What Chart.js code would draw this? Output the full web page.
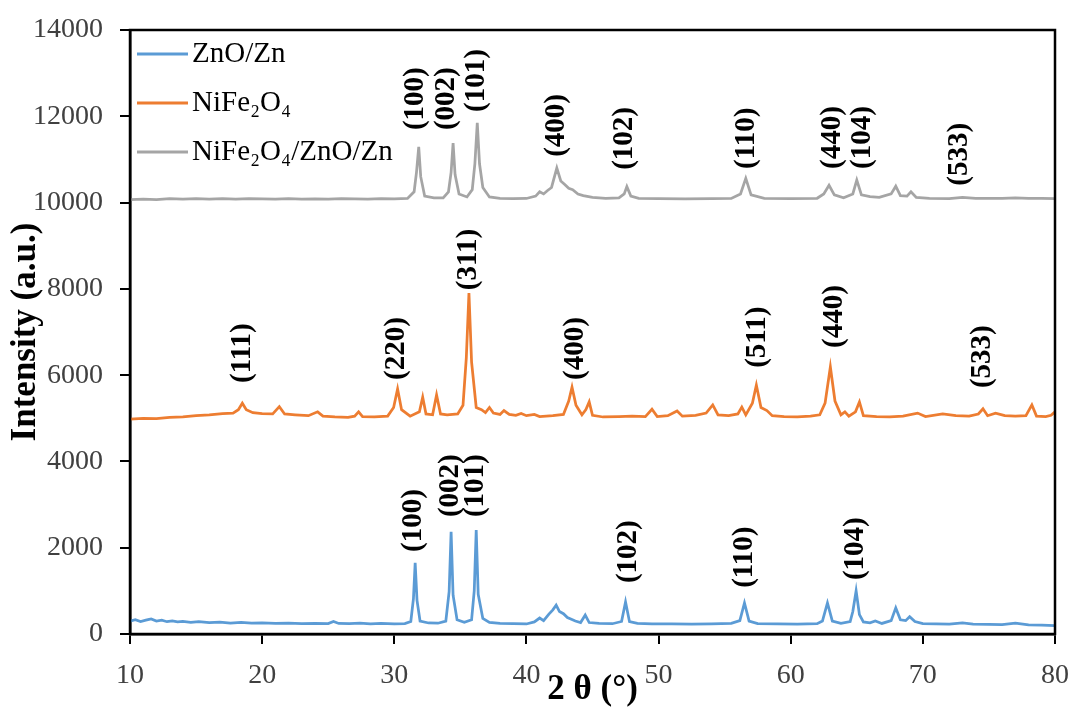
<!DOCTYPE html>
<html>
<head>
<meta charset="utf-8">
<script src="https://cdn.jsdelivr.net/npm/chart.js@4.4.1/dist/chart.umd.min.js"></script>
<style>
  html, body { margin: 0; padding: 0; background: #fff; }
  #wrap { width: 1073px; height: 709px; }
</style>
</head>
<body>
<div id="wrap"><canvas id="xrdChart" width="1073" height="709"></canvas></div>
<script>
  const SERIF = '"Liberation Serif", "Times New Roman", serif';

  const SERIES_NAMES = ['ZnO/Zn', 'NiFe₂O₄', 'NiFe₂O₄/ZnO/Zn'];
  const SERIES_COLORS = ['#5b9bd5', '#ed7d31', '#a5a5a5'];

  const X_TICKS = [10, 20, 30, 40, 50, 60, 70, 80];
  const Y_TICKS = [0, 2000, 4000, 6000, 8000, 10000, 12000, 14000];

  // [2θ, intensity]
  const zincPattern = [
    [10.0, 300], [10.4, 330], [10.8, 290], [11.2, 320], [11.6, 350], [12.0, 300], [12.4, 320],
    [12.8, 285], [13.2, 305], [13.6, 280], [14.0, 295], [14.6, 270], [15.2, 285], [16.0, 262],
    [16.8, 275], [17.6, 255], [18.4, 268], [19.2, 250], [20.0, 258], [21.0, 245], [22.0, 252],
    [23.0, 240], [24.0, 248], [25.0, 240], [25.4, 290], [25.8, 245], [26.6, 238], [27.4, 250],
    [28.2, 236], [29.0, 245], [30.0, 235], [30.8, 240], [31.25, 290], [31.45, 820], [31.58, 1650],
    [31.72, 780], [31.95, 300], [32.6, 255], [33.3, 250], [33.9, 300], [34.15, 980], [34.3, 2370],
    [34.45, 900], [34.75, 330], [35.3, 270], [35.85, 330], [36.05, 1000], [36.2, 2410], [36.35, 920],
    [36.7, 360], [37.2, 270], [38.0, 245], [39.0, 238], [40.0, 232], [40.6, 280], [41.0, 370],
    [41.3, 310], [41.7, 460], [42.0, 560], [42.25, 670], [42.5, 520], [42.8, 470], [43.1, 380],
    [43.4, 340], [43.7, 300], [44.1, 265], [44.45, 440], [44.75, 265], [45.5, 245], [46.5, 238],
    [47.2, 290], [47.5, 745], [47.8, 285], [48.4, 245], [49.5, 232], [51.0, 236], [52.5, 228],
    [54.0, 232], [55.5, 245], [56.15, 310], [56.5, 720], [56.85, 300], [57.5, 242], [59.0, 232],
    [60.5, 228], [62.0, 240], [62.4, 300], [62.78, 720], [63.15, 300], [63.8, 245], [64.5, 290],
    [64.7, 520], [64.95, 1000], [65.2, 450], [65.5, 280], [66.0, 260], [66.4, 300], [66.9, 245],
    [67.6, 310], [67.95, 605], [68.3, 330], [68.7, 310], [69.0, 400], [69.4, 290], [70.0, 240],
    [71.0, 232], [72.0, 228], [73.0, 255], [73.8, 228], [75.0, 222], [76.0, 218], [77.0, 250],
    [78.0, 212], [79.0, 208], [80.0, 195]
  ];

  const ferritePattern = [
    [10.0, 4980], [11.0, 5000], [12.0, 4990], [13.0, 5020], [14.0, 5030], [15.0, 5060], [16.0, 5080],
    [17.0, 5110], [17.8, 5120], [18.2, 5200], [18.5, 5350], [18.8, 5200], [19.3, 5130], [20.0, 5110],
    [20.8, 5100], [21.3, 5270], [21.7, 5100], [22.5, 5080], [23.5, 5060], [24.2, 5150], [24.6, 5050],
    [25.5, 5030], [26.5, 5020], [27.0, 5050], [27.3, 5150], [27.6, 5040], [28.5, 5030], [29.5, 5050],
    [29.95, 5250], [30.25, 5680], [30.55, 5200], [31.2, 5050], [31.9, 5150], [32.15, 5490], [32.4, 5100],
    [32.9, 5080], [33.2, 5540], [33.5, 5100], [34.0, 5080], [34.8, 5100], [35.2, 5300], [35.45, 6400],
    [35.65, 7900], [35.85, 6300], [36.2, 5250], [36.6, 5200], [36.9, 5130], [37.2, 5250], [37.5, 5120],
    [38.0, 5090], [38.3, 5180], [38.7, 5090], [39.2, 5070], [39.6, 5110], [40.0, 5060], [40.6, 5090],
    [41.0, 5040], [42.0, 5060], [42.8, 5090], [43.2, 5400], [43.45, 5720], [43.75, 5300], [44.2, 5080],
    [44.5, 5200], [44.75, 5380], [45.0, 5070], [45.8, 5030], [47.0, 5040], [48.0, 5050], [49.0, 5040],
    [49.5, 5210], [49.9, 5040], [50.7, 5060], [51.4, 5170], [51.8, 5050], [52.8, 5070], [53.6, 5120],
    [54.1, 5310], [54.5, 5080], [55.3, 5060], [56.0, 5100], [56.3, 5260], [56.6, 5080], [57.1, 5350],
    [57.4, 5770], [57.75, 5250], [58.2, 5180], [58.6, 5060], [59.5, 5040], [60.5, 5030], [61.5, 5050],
    [62.2, 5080], [62.6, 5350], [63.0, 6190], [63.35, 5400], [63.8, 5080], [64.1, 5150], [64.4, 5050],
    [64.9, 5150], [65.2, 5380], [65.5, 5060], [66.5, 5040], [67.5, 5030], [68.5, 5050], [69.6, 5120],
    [70.2, 5040], [71.5, 5100], [72.5, 5060], [73.5, 5050], [74.2, 5100], [74.55, 5220], [74.9, 5060],
    [75.5, 5120], [76.2, 5060], [77.0, 5050], [77.8, 5060], [78.25, 5310], [78.6, 5050], [79.3, 5040],
    [79.7, 5070], [80.0, 5150]
  ];

  const compositePattern = [
    [10.0, 10070], [11.0, 10080], [12.0, 10070], [13.0, 10090], [14.0, 10080], [15.0, 10090], [16.0, 10080],
    [17.0, 10090], [18.0, 10080], [19.0, 10090], [20.0, 10085], [21.0, 10080], [22.0, 10090], [23.0, 10080],
    [24.0, 10085], [25.0, 10080], [26.0, 10090], [27.0, 10085], [28.0, 10080], [29.0, 10090], [30.0, 10085],
    [31.0, 10095], [31.5, 10250], [31.68, 10700], [31.85, 11290], [32.0, 10600], [32.3, 10150], [33.0, 10110],
    [33.7, 10110], [34.1, 10250], [34.3, 10700], [34.45, 11380], [34.6, 10650], [34.9, 10200], [35.5, 10130],
    [35.9, 10300], [36.1, 10900], [36.28, 11850], [36.45, 10900], [36.7, 10350], [37.2, 10130], [38.0, 10100],
    [39.0, 10090], [40.0, 10095], [40.7, 10150], [41.0, 10250], [41.3, 10200], [41.6, 10280], [41.9, 10350],
    [42.3, 10800], [42.6, 10500], [42.9, 10420], [43.2, 10330], [43.5, 10300], [43.9, 10200], [44.3, 10160],
    [45.0, 10120], [46.0, 10100], [47.0, 10110], [47.4, 10200], [47.6, 10370], [47.9, 10150], [48.5, 10100],
    [50.0, 10090], [52.0, 10085], [54.0, 10090], [55.5, 10095], [56.2, 10200], [56.6, 10560], [57.0, 10180],
    [58.0, 10100], [60.0, 10090], [62.0, 10100], [62.5, 10200], [62.9, 10400], [63.3, 10180], [64.0, 10110],
    [64.7, 10200], [65.0, 10520], [65.35, 10180], [66.0, 10140], [66.7, 10120], [67.6, 10200], [67.95, 10380],
    [68.3, 10160], [68.8, 10150], [69.1, 10250], [69.5, 10120], [70.5, 10100], [72.0, 10090], [73.0, 10120],
    [74.0, 10100], [76.0, 10095], [77.0, 10110], [78.0, 10095], [79.0, 10100], [80.0, 10090]
  ];

  // Miller indices: [label, 2θ, intensity at the foot of the label]
  const zincLabels = [
    ['(100)', 31.49, 1900], ['(002)', 34.29, 2710], ['(101)', 36.18, 2710],
    ['(102)', 47.69, 1180], ['(110)', 56.54, 1070], ['(104)', 64.87, 1250]
  ];
  const ferriteLabels = [
    ['(111)', 18.48, 5820], ['(220)', 30.2, 5890], ['(311)', 35.65, 7970], ['(400)', 43.68, 5890],
    ['(511)', 57.52, 6170], ['(440)', 63.28, 6630], ['(533)', 74.55, 5700]
  ];
  const compositeLabels = [
    ['(100)', 31.57, 11680], ['(002)', 33.99, 11680], ['(101)', 36.26, 12100], ['(400)', 42.31, 11060],
    ['(102)', 47.46, 10760], ['(110)', 56.65, 10780], ['(440)', 63.15, 10780], ['(104)', 65.42, 10780],
    ['(533)', 72.8, 10390]
  ];

  const framePlugin = {
    id: 'frame',
    afterDraw(chart) {
      const { ctx, chartArea: a } = chart;
      ctx.save();
      ctx.strokeStyle = '#000';
      ctx.lineWidth = 2.5;
      ctx.strokeRect(a.left, a.top, a.right - a.left, a.bottom - a.top);
      ctx.restore();
    }
  };

  const insideLegend = {
    id: 'insideLegend',
    afterDatasetsDraw(chart) {
      const { ctx, chartArea: a } = chart;
      ctx.save();
      ctx.font = '29px ' + SERIF;
      ctx.textBaseline = 'middle';
      ctx.textAlign = 'left';
      chart.data.datasets.forEach((ds, i) => {
        const y = a.top + 24 + i * 49;
        ctx.strokeStyle = ds.borderColor;
        ctx.lineWidth = 3;
        ctx.beginPath();
        ctx.moveTo(a.left + 7, y);
        ctx.lineTo(a.left + 58, y);
        ctx.stroke();
        ctx.fillStyle = '#000';
        ctx.fillText(ds.label, a.left + 62, y);
      });
      ctx.restore();
    }
  };

  const hklLabels = {
    id: 'hklLabels',
    afterDatasetsDraw(chart) {
      const { ctx, scales: { x, y } } = chart;
      ctx.save();
      ctx.font = 'bold 29px ' + SERIF;
      ctx.fillStyle = '#000';
      ctx.textAlign = 'left';
      ctx.textBaseline = 'middle';
      [zincLabels, ferriteLabels, compositeLabels].forEach((list) => {
        list.forEach(([text, theta, level]) => {
          ctx.save();
          ctx.translate(x.getPixelForValue(theta), y.getPixelForValue(level));
          ctx.rotate(-Math.PI / 2);
          ctx.fillText(text, 0, 0);
          ctx.restore();
        });
      });
      ctx.restore();
    }
  };

  function toPoints(pattern) {
    return pattern.map(([theta, counts]) => ({ x: theta, y: counts }));
  }

  const patterns = [zincPattern, ferritePattern, compositePattern];

  const tickFont = { family: SERIF, size: 28 };
  const titleFont = { family: SERIF, size: 35, weight: 'bold', lineHeight: 1 };

  new Chart(document.getElementById('xrdChart'), {
    type: 'line',
    data: {
      datasets: patterns.map((p, i) => ({
        label: SERIES_NAMES[i],
        data: toPoints(p),
        borderColor: SERIES_COLORS[i],
        backgroundColor: SERIES_COLORS[i],
        borderWidth: 2.75,
        pointRadius: 0,
        tension: 0,
        fill: false
      }))
    },
    options: {
      responsive: false,
      devicePixelRatio: 1,
      animation: false,
      layout: { padding: { left: 0, top: 30, right: 18, bottom: 0 } },
      plugins: { legend: { display: false }, tooltip: { enabled: false } },
      scales: {
        x: {
          type: 'linear',
          min: X_TICKS[0],
          max: X_TICKS[X_TICKS.length - 1],
          ticks: {
            stepSize: X_TICKS[1] - X_TICKS[0],
            font: tickFont,
            color: '#404040',
            padding: 15,
            callback: (v) => String(v)
          },
          grid: { drawOnChartArea: false, drawTicks: true, tickLength: 10, color: '#000', lineWidth: 2 },
          border: { display: true, color: '#000', width: 2.5 },
          title: { display: true, text: '2 θ (°)', font: titleFont, color: '#000', padding: { top: 0, bottom: 2 } },
          afterFit(scale) {
            scale.height = 75;
            scale.paddingLeft = 0;
            scale.paddingRight = 0;
          }
        },
        y: {
          min: Y_TICKS[0],
          max: Y_TICKS[Y_TICKS.length - 1],
          ticks: {
            stepSize: Y_TICKS[1] - Y_TICKS[0],
            font: tickFont,
            color: '#404040',
            padding: 17,
            callback: (v) => String(v)
          },
          grid: { drawOnChartArea: false, drawTicks: true, tickLength: 10, color: '#000', lineWidth: 2 },
          border: { display: true, color: '#000', width: 2.5 },
          title: { display: true, text: 'Intensity (a.u.)', font: titleFont, color: '#000', padding: { top: 8, bottom: 0 } },
          afterFit(scale) {
            scale.width = 130;
            scale.paddingTop = 0;
            scale.paddingBottom = 0;
          }
        }
      }
    },
    plugins: [hklLabels, insideLegend, framePlugin]
  });
</script>
</body>
</html>
